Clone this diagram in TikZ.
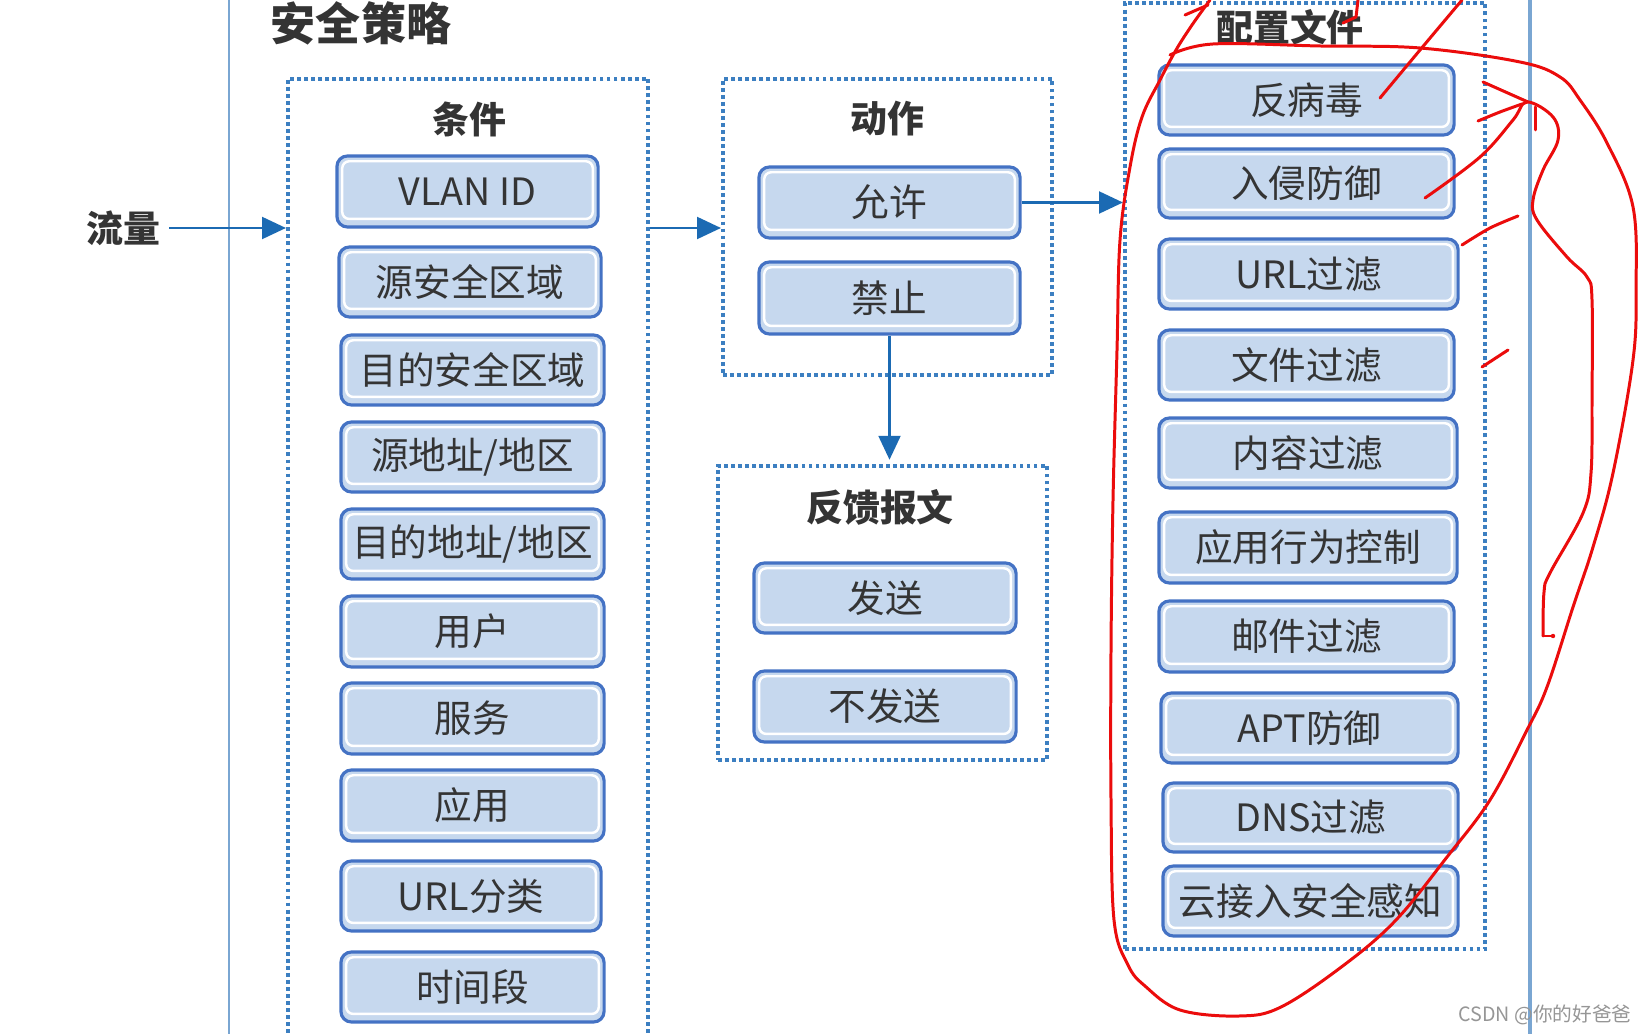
\documentclass[tikz,border=0pt]{standalone}
\usepackage{fontspec}
\setmainfont{Noto Sans CJK SC}
\usetikzlibrary{arrows.meta}
\definecolor{boxblue}{RGB}{68,114,196}
\definecolor{boxfill}{RGB}{198,216,238}
\definecolor{txt}{RGB}{52,52,52}
\definecolor{dotblue}{RGB}{60,127,193}
\definecolor{arrblue}{RGB}{27,106,179}
\definecolor{vline}{RGB}{122,166,210}
\definecolor{pen}{RGB}{235,12,12}
\definecolor{wm}{RGB}{150,150,150}
\tikzset{
  cbox/.style={draw=boxblue, line width=0.9pt, fill=boxfill, rounded corners=3pt,
    inner sep=0pt, text=txt, font=\fontsize{10.7}{12}\selectfont,
    path picture={\draw[white, line width=0.7pt, rounded corners=2pt]
      ([shift={(1.5pt,-1.5pt)}]path picture bounding box.north west) rectangle
      ([shift={(-1.5pt,2.3pt)}]path picture bounding box.south east);}},
  dotbox/.style={draw=dotblue, line width=1.1pt, dash pattern=on 1.1pt off 0.9pt, inner sep=0pt},
  grouplabel/.style={text=txt, font=\fontsize{10.5}{12}\selectfont\bfseries, inner sep=1pt},
  arr/.style={draw=arrblue, line width=0.75pt, -{Triangle[length=6.8pt,width=6.2pt]}},
  penline/.style={draw=pen, line width=0.85pt, line cap=round, line join=round},
}
\begin{document}
\begin{tikzpicture}[x=0.01cm, y=-0.01cm]
\useasboundingbox (0,0) rectangle (1646,1034);
\fill[white] (0,0) rectangle (1646,1034);

% vertical frame lines
\coordinate (lt) at (229,0); \coordinate (lb) at (229,1034);
\coordinate (rt) at (1530,0); \coordinate (rb) at (1530,1034);
\draw[vline, line width=0.75pt] (lt) -- (lb);
\draw[vline, line width=1.15pt] (rt) -- (rb);

% title
\node[text=txt, font=\fontsize{12.8}{14}\selectfont\bfseries] (title) at (361,23) {安全策略};
\node[grouplabel] (flow) at (123,228) {流量};

% group boxes
\node[dotbox, minimum width=3.60cm, minimum height=9.66cm] (cond) at (468,562) {};
\node[dotbox, minimum width=3.29cm, minimum height=2.96cm] (act) at (887.5,227) {};
\node[dotbox, minimum width=3.29cm, minimum height=2.94cm] (fb) at (882.5,613) {};
\node[dotbox, minimum width=3.60cm, minimum height=9.46cm] (cfg) at (1305,476) {};

\node[grouplabel] (condl) at (469,119) {条件};
\node[grouplabel] (actl) at (887,119) {动作};
\node[grouplabel] (fbl) at (880,507) {反馈报文};
\node[grouplabel] (cfgl) at (1290,27) {配置文件};

% conditions
\node[cbox, minimum width=2.61cm, minimum height=0.71cm] (c1) at (467.5,191.5) {VLAN ID};
\node[cbox, minimum width=2.62cm, minimum height=0.70cm] (c2) at (470,282) {源安全区域};
\node[cbox, minimum width=2.63cm, minimum height=0.70cm] (c3) at (472.5,370) {目的安全区域};
\node[cbox, minimum width=2.63cm, minimum height=0.70cm] (c4) at (472.5,457) {源地址/地区};
\node[cbox, minimum width=2.63cm, minimum height=0.70cm] (c5) at (472.5,544) {目的地址/地区};
\node[cbox, minimum width=2.63cm, minimum height=0.71cm] (c6) at (472.5,631.5) {用户};
\node[cbox, minimum width=2.63cm, minimum height=0.71cm] (c7) at (472.5,718.5) {服务};
\node[cbox, minimum width=2.63cm, minimum height=0.71cm] (c8) at (472.5,805.5) {应用};
\node[cbox, minimum width=2.60cm, minimum height=0.70cm] (c9) at (471,896) {URL分类};
\node[cbox, minimum width=2.63cm, minimum height=0.70cm] (c10) at (472.5,987) {时间段};

% actions
\node[cbox, minimum width=2.61cm, minimum height=0.71cm] (a1) at (889.5,202.5) {允许};
\node[cbox, minimum width=2.61cm, minimum height=0.72cm] (a2) at (889.5,298) {禁止};

% feedback
\node[cbox, minimum width=2.62cm, minimum height=0.70cm] (f1) at (885,598) {发送};
\node[cbox, minimum width=2.62cm, minimum height=0.71cm] (f2) at (885,706.5) {不发送};

% profiles
\node[cbox, minimum width=2.95cm, minimum height=0.70cm] (p1) at (1306.5,100) {反病毒};
\node[cbox, minimum width=2.95cm, minimum height=0.69cm] (p2) at (1306.5,183.5) {入侵防御};
\node[cbox, minimum width=2.99cm, minimum height=0.70cm] (p3) at (1308.5,274) {URL过滤};
\node[cbox, minimum width=2.95cm, minimum height=0.70cm] (p4) at (1306.5,365) {文件过滤};
\node[cbox, minimum width=2.98cm, minimum height=0.70cm] (p5) at (1308,453) {内容过滤};
\node[cbox, minimum width=2.98cm, minimum height=0.71cm] (p6) at (1308,547.5) {应用行为控制};
\node[cbox, minimum width=2.95cm, minimum height=0.71cm] (p7) at (1306.5,636.5) {邮件过滤};
\node[cbox, minimum width=2.97cm, minimum height=0.70cm] (p8) at (1309.5,728) {APT防御};
\node[cbox, minimum width=2.95cm, minimum height=0.69cm] (p9) at (1310.5,817.5) {DNS过滤};
\node[cbox, minimum width=2.95cm, minimum height=0.70cm] (p10) at (1310.5,901) {云接入安全感知};

% connectors
\draw[arr] ([xshift=1.5pt]flow.east) -- (cond.west |- flow);
\draw[arr] (cond.east |- flow) -- (act.west |- flow);
\draw[arr] (a1.east) -- (cfg.west |- a1);
\draw[arr] (a2.south) -- ([yshift=1.2pt]fb.north -| a2);

% watermark
\node[text=wm, font=\fontsize{5.6}{7}\selectfont] (wmk) at (1545,1015) {CSDN @你的好爸爸};

% red hand annotations
\draw[penline] plot[smooth, tension=0.6] coordinates {
  (1170,55) (1213,44) (1320,46) (1420,48) (1520,62) (1560,77) (1580,100) (1607,143)
  (1633,207) (1636,290) (1633,360) (1613,473) (1593,547) (1573,607) (1547,687)
  (1527,730) (1490,800) (1447,857) (1396,920) (1344,965) (1281,1007) (1239,1016)
  (1180,1010) (1145,986) (1128,965) (1114,920) (1111,800) (1111,650) (1113,500)
  (1117,350) (1120,240) (1130,167) (1142,117) (1160,80) (1176,50) (1192,25) (1210,0)};
\draw[penline] plot[smooth, tension=0.6] coordinates {
  (1425,198) (1480,157) (1513,120) (1527,102) (1553,117) (1558,140) (1543,170)
  (1533,200) (1537,220) (1567,257) (1587,277) (1592,300) (1592,400) (1591,473)
  (1583,513) (1550,573) (1544,592) (1543,636)};
\draw[penline] (1543,636) -- (1553,636);
\fill[pen] (1553,636) circle (2.2);
\draw[penline] (1483,82) -- (1528,102);
\draw[penline] plot[smooth] coordinates {(1478,121) (1500,112) (1522,104)};
\draw[penline] (1535,107) -- (1535,130);
\draw[penline] plot[smooth] coordinates {(1380,98) (1420,50) (1462,0)};
\draw[penline] plot[smooth] coordinates {(1462,245) (1490,228) (1518,216)};
\draw[penline] (1482,367) -- (1508,350);
\draw[penline] (1185,15) -- (1208,5);
\draw[penline] (1343,23) -- (1356,17) -- (1358,0);
\end{tikzpicture}
\end{document}
